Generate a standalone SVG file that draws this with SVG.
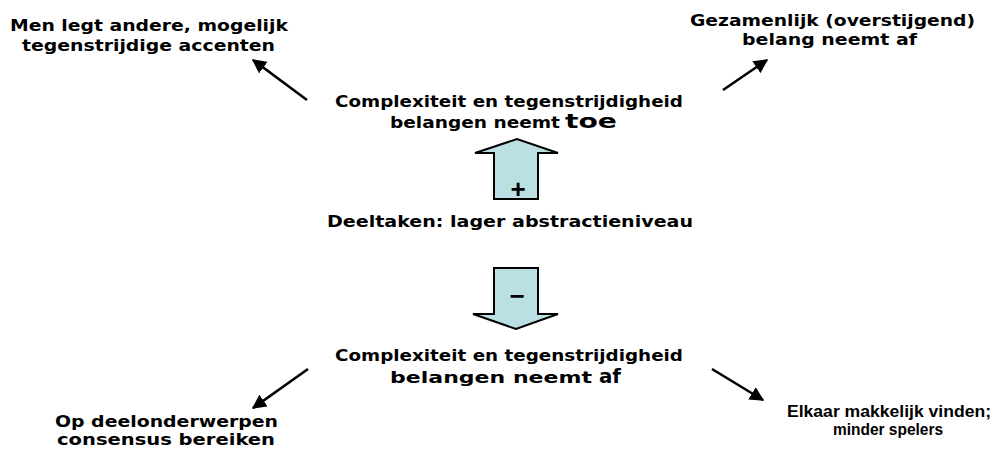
<svg xmlns="http://www.w3.org/2000/svg" width="995" height="450" viewBox="0 0 995 450">
  <style>
    text { font-family: "DejaVu Sans", "Liberation Sans", sans-serif; font-weight: bold; font-size: 16.5px; fill: #000; }
    .big { font-weight: 900; font-size: 19px; }
    .tight { font-family: "Liberation Sans", Arial, sans-serif; font-size: 16px; }
    .sign { font-family: "Liberation Sans", Arial, sans-serif; font-size: 26px; text-anchor: middle; }
    .conn { stroke: #000; stroke-width: 2.6; fill: none; marker-end: url(#head); }
    .block { fill: #bbe0e3; stroke: #000; stroke-width: 2; stroke-linejoin: miter; }
  </style>
  <defs>
    <marker id="head" viewBox="0 0 10 10" refX="9" refY="5" markerWidth="5.5" markerHeight="5.5" orient="auto" markerUnits="strokeWidth">
      <path d="M0,0 L10,5 L0,10 Z" fill="#000"/>
    </marker>
  </defs>

  <!-- corner notes -->
  <g id="note-top-left">
    <text x="10" y="31" textLength="278" lengthAdjust="spacingAndGlyphs">Men legt andere, mogelijk</text>
    <text x="22" y="51" textLength="253" lengthAdjust="spacingAndGlyphs">tegenstrijdige  accenten</text>
  </g>
  <g id="note-top-right">
    <text x="690" y="26" textLength="285" lengthAdjust="spacingAndGlyphs">Gezamenlijk (overstijgend)</text>
    <text x="742" y="45" textLength="175" lengthAdjust="spacingAndGlyphs">belang neemt af</text>
  </g>
  <g id="note-bottom-left">
    <text x="55" y="427" textLength="223" lengthAdjust="spacingAndGlyphs">Op deelonderwerpen</text>
    <text x="57" y="445" textLength="218" lengthAdjust="spacingAndGlyphs">consensus bereiken</text>
  </g>
  <g id="note-bottom-right">
    <text class="tight" x="787" y="417" textLength="204" lengthAdjust="spacingAndGlyphs">Elkaar makkelijk vinden;</text>
    <text class="tight" x="833" y="435" textLength="110" lengthAdjust="spacingAndGlyphs">minder spelers</text>
  </g>

  <!-- central statements -->
  <g id="increase">
    <text x="335" y="107" textLength="348" lengthAdjust="spacingAndGlyphs">Complexiteit en tegenstrijdigheid</text>
    <text x="390" y="128" textLength="170" lengthAdjust="spacingAndGlyphs">belangen neemt</text>
    <text class="big" x="565" y="128" textLength="52" lengthAdjust="spacingAndGlyphs">toe</text>
  </g>
  <g id="level">
    <text x="327" y="227" textLength="366" lengthAdjust="spacingAndGlyphs">Deeltaken: lager abstractieniveau</text>
  </g>
  <g id="decrease">
    <text x="335" y="361" textLength="348" lengthAdjust="spacingAndGlyphs">Complexiteit en tegenstrijdigheid</text>
    <text x="390" y="383" textLength="202" lengthAdjust="spacingAndGlyphs">belangen neemt</text>
    <text class="big" x="599" y="383" textLength="22" lengthAdjust="spacingAndGlyphs">af</text>
  </g>

  <!-- block arrows -->
  <g id="arrow-up">
    <path class="block" d="M494,199 L494,153 L475,153 L517,139 L558,153 L538,153 L538,199 Z"/>
    <text class="sign" x="518" y="198">+</text>
  </g>
  <g id="arrow-down">
    <path class="block" d="M494,268 L538,268 L538,314 L558,314 L516,329 L473,314 L494,314 Z"/>
    <text class="sign" x="517" y="305">−</text>
  </g>

  <!-- connectors -->
  <g id="connectors">
    <line class="conn" x1="307" y1="100" x2="253" y2="60"/>
    <line class="conn" x1="723" y1="90" x2="767" y2="60"/>
    <line class="conn" x1="308" y1="369" x2="253" y2="408"/>
    <line class="conn" x1="712" y1="369" x2="763" y2="400"/>
  </g>
</svg>
